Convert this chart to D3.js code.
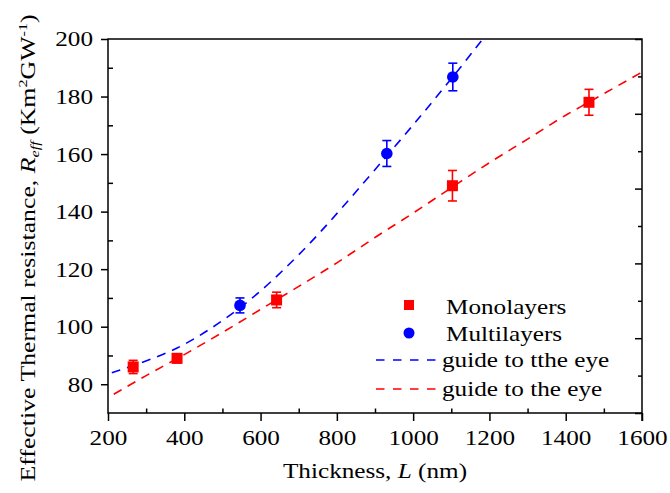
<!DOCTYPE html>
<html><head><meta charset="utf-8">
<script src="https://cdn.jsdelivr.net/npm/d3@7"></script>
<style>
html,body{margin:0;padding:0;background:#fff;}
svg text{font-family:"Liberation Serif","Times New Roman",serif;fill:#000;}
</style></head>
<body><svg id="c" width="670" height="493"></svg>
<script>
// ---- data ----
const monoL = [266, 381, 642, 1103, 1461];
const monoR = [86, 89, 109.3, 149, 178];
const monoErr = [2.3, 1.6, 2.7, 5.3, 4.5];
const multiL = [546, 931, 1104];
const multiR = [107.4, 160.2, 186.8];
const multiErr = [2.6, 4.5, 4.8];
const guideBlueL = [210, 380, 545, 700, 935, 1105, 1200];
const guideBlueR = [84, 92.5, 106.5, 125, 160, 187, 203];
const guideRedL = [215, 300, 400, 500, 600, 700, 800, 900, 1000, 1100, 1200, 1300, 1400, 1460, 1600];
const guideRedR = [76.5, 83, 90.3, 98, 106, 114, 122.2, 131, 139.5, 148.3, 157, 165.2, 173.5, 178, 188.5];
const xTicks = [200, 400, 600, 800, 1000, 1200, 1400, 1600];
const xMinor = [300, 500, 700, 900, 1100, 1300, 1500];
const yTicks = [80, 100, 120, 140, 160, 180, 200];
const yMinor = [90, 110, 130, 150, 170, 190];
const legendLabels = ["Monolayers", "Multilayers", "guide to tthe eye", "guide to the eye"];

const RED = "#ff0000", BLUE = "#0000ff";
const SX = 1.2, FS = 21;
const svg = d3.select("#c");
const L = 108, R = 642, T = 39, B = 413;
const x = d3.scaleLinear().domain([200, 1600]).range([L, R]);
const y = d3.scaleLinear().domain([70, 200]).range([B, T]);
const yR = d3.scaleLinear().domain([0, 10]).range([B, T]);

svg.append("defs").append("clipPath").attr("id", "clip")
  .append("rect").attr("x", L).attr("y", T).attr("width", R - L).attr("height", B - T);

// guide lines
const lineB = d3.line().x(d => x(d[0])).y(d => y(d[1])).curve(d3.curveCatmullRom.alpha(0.5));
const lineR = d3.line().x(d => x(d[0])).y(d => y(d[1])).curve(d3.curveMonotoneX);
const gl = svg.append("g").attr("clip-path", "url(#clip)");
gl.append("path").datum(guideBlueL.map((v, i) => [v, guideBlueR[i]]))
  .attr("d", lineB).attr("fill", "none").attr("stroke", BLUE).attr("stroke-width", 1.6).attr("stroke-dasharray", "9,7");
gl.append("path").datum(guideRedL.map((v, i) => [v, guideRedR[i]]))
  .attr("d", lineR).attr("fill", "none").attr("stroke", RED).attr("stroke-width", 1.6).attr("stroke-dasharray", "9,7");

// error bars + markers
function errbars(Ls, Rs, Es, col) {
  const g = svg.append("g").attr("stroke", col).attr("stroke-width", 1.6);
  Ls.forEach((l, i) => {
    const cx = x(l), y1 = y(Rs[i] + Es[i]), y2 = y(Rs[i] - Es[i]);
    g.append("line").attr("x1", cx).attr("x2", cx).attr("y1", y1).attr("y2", y2);
    g.append("line").attr("x1", cx - 4.5).attr("x2", cx + 4.5).attr("y1", y1).attr("y2", y1);
    g.append("line").attr("x1", cx - 4.5).attr("x2", cx + 4.5).attr("y1", y2).attr("y2", y2);
  });
}
errbars(monoL, monoR, monoErr, RED);
errbars(multiL, multiR, multiErr, BLUE);
svg.append("g").selectAll("rect").data(monoL).join("rect")
  .attr("x", (d) => x(d) - 5.5).attr("y", (d, i) => y(monoR[i]) - 5.5)
  .attr("width", 11).attr("height", 11).attr("fill", RED);
svg.append("g").selectAll("circle").data(multiL).join("circle")
  .attr("cx", d => x(d)).attr("cy", (d, i) => y(multiR[i])).attr("r", 5.8).attr("fill", BLUE);

// axes
function styleAxis(g) {
  g.select(".domain").remove();
  g.selectAll("line").attr("stroke", "#000").attr("stroke-width", 1.5);
}
const gxb = svg.append("g").attr("transform", `translate(0,${B})`)
  .call(d3.axisBottom(x).tickValues(xTicks).tickSize(8).tickFormat(d3.format("d")));
styleAxis(gxb);
gxb.selectAll("text").attr("font-size", FS).attr("y", 0).attr("dy", null)
  .attr("transform", `translate(0,32) scale(${SX},1)`);
svg.append("g").attr("transform", `translate(0,${B})`)
  .call(d3.axisBottom(x).tickValues(xMinor).tickSize(-4.5).tickFormat("")).call(styleAxis);

const gyl = svg.append("g").attr("transform", `translate(${L},0)`)
  .call(d3.axisLeft(y).tickValues(yTicks).tickSize(7).tickFormat(d3.format("d")));
styleAxis(gyl);
gyl.selectAll("text").attr("font-size", FS).attr("x", 0).attr("dy", "0.33em")
  .attr("transform", `translate(-15,0) scale(${SX},1)`);
svg.append("g").attr("transform", `translate(${L},0)`)
  .call(d3.axisLeft(y).tickValues(yMinor).tickSize(-5).tickFormat("")).call(styleAxis);

svg.append("g").attr("transform", `translate(${R},0)`)
  .call(d3.axisRight(yR).tickValues([0, 2, 4, 6, 8, 10]).tickSize(-7).tickFormat("")).call(styleAxis);
svg.append("g").attr("transform", `translate(${R},0)`)
  .call(d3.axisRight(yR).tickValues([1, 3, 5, 7, 9]).tickSize(-4).tickFormat("")).call(styleAxis);

// frame
svg.append("rect").attr("x", L).attr("y", T).attr("width", R - L).attr("height", B - T)
  .attr("fill", "none").attr("stroke", "#000").attr("stroke-width", 1.5);
svg.append("line").attr("x1", R).attr("x2", R).attr("y1", B).attr("y2", B + 8).attr("stroke", "#000").attr("stroke-width", 1.5);

// axis titles
svg.append("text").attr("font-size", FS).attr("text-anchor", "middle")
  .attr("transform", `translate(375,478) scale(${SX},1)`)
  .call(t => {
    t.append("tspan").text("Thickness, ");
    t.append("tspan").attr("font-style", "italic").text("L");
    t.append("tspan").text(" (nm)");
  });
svg.append("text").attr("font-size", 21.5).attr("text-anchor", "middle")
  .attr("transform", `translate(35,248) rotate(-90) scale(${SX},1)`)
  .call(t => {
    t.append("tspan").text("Effective Thermal resistance, ");
    t.append("tspan").attr("font-style", "italic").text("R");
    t.append("tspan").attr("font-style", "italic").attr("font-size", 13.5).attr("dy", 4).text("eff");
    t.append("tspan").attr("dy", -4).text("  (Km");
    t.append("tspan").attr("font-size", 13.5).attr("dy", -8).text("2");
    t.append("tspan").attr("dy", 8).text("GW");
    t.append("tspan").attr("font-size", 13.5).attr("dy", -8).text("-1");
    t.append("tspan").attr("dy", 8).text(")");
  });

// legend
const lg = svg.append("g");
lg.append("rect").attr("x", 404).attr("y", 300).attr("width", 10).attr("height", 10).attr("fill", RED);
lg.append("circle").attr("cx", 409).attr("cy", 333).attr("r", 5.5).attr("fill", BLUE);
lg.append("line").attr("x1", 376).attr("x2", 436).attr("y1", 360).attr("y2", 360)
  .attr("stroke", BLUE).attr("stroke-width", 1.6).attr("stroke-dasharray", "8.5,8.5");
lg.append("line").attr("x1", 376).attr("x2", 436).attr("y1", 389).attr("y2", 389)
  .attr("stroke", RED).attr("stroke-width", 1.6).attr("stroke-dasharray", "8.5,8.5");
const lpos = [[446, 314], [446, 341], [442, 367], [442, 396]];
legendLabels.forEach((s, i) => {
  lg.append("text").attr("font-size", FS)
    .attr("transform", `translate(${lpos[i][0]},${lpos[i][1]}) scale(${SX},1)`).text(s);
});
</script></body></html>
